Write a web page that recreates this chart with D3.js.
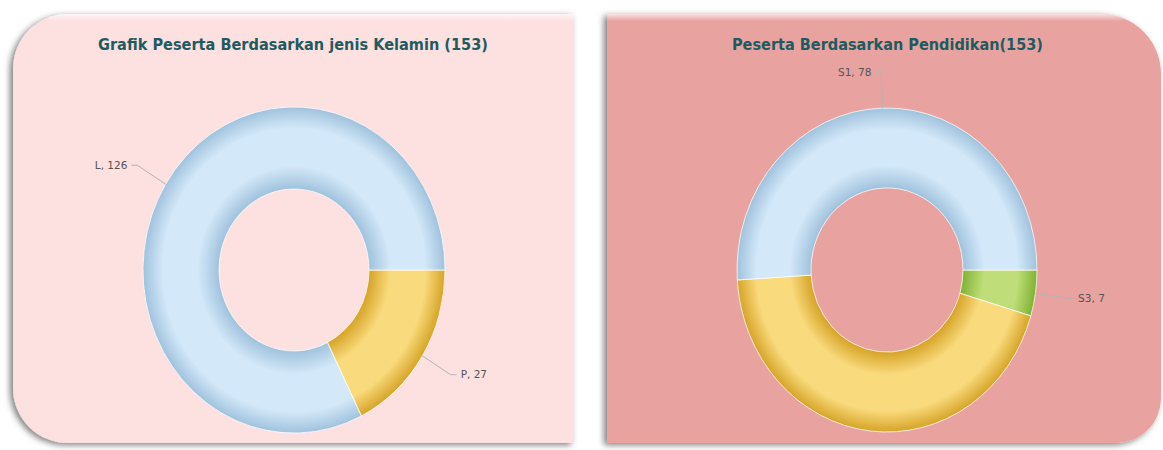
<!DOCTYPE html>
<html>
<head>
<meta charset="utf-8">
<script src="https://cdn.jsdelivr.net/npm/d3@7"></script>
<style>
body{margin:0;background:#fff;}
svg{display:block;}
</style>
</head>
<body>
<svg id="chart" width="1163" height="450"></svg>
<script>
//data
var genderTitle="Grafik Peserta Berdasarkan jenis Kelamin (153)";
var genderCats=["P","L"];
var genderVals=[27,126];
var genderColors=["yellow","blue"];
var genderShown=["P","L"];

var eduTitle="Peserta Berdasarkan Pendidikan(153)";
var eduCats=["S3","S2","S1"];
var eduVals=[7,68,78];
var eduColors=["green","yellow","blue"];
var eduShown=["S3","S1"]; //S2 label falls outside the picture

//palette: edge / light
var shades={
    blue:["#a0c2dd","#d3e8f8"],
    yellow:["#d6a428","#f9da7c"],
    green:["#80b234","#bfdd78"]
};

var svg=d3.select("#chart");
var defs=svg.append("defs");

var shadow=defs.append("filter").attr("id","shadow").attr("x","-10%").attr("y","-10%").attr("width","120%").attr("height","120%");
shadow.append("feDropShadow").attr("dx",-3).attr("dy",2).attr("stdDeviation",3)
    .attr("flood-color","#000").attr("flood-opacity",0.5);

var gloss=defs.append("linearGradient").attr("id","gloss").attr("x1",0).attr("y1",0).attr("x2",0).attr("y2",1);
gloss.append("stop").attr("offset",0).attr("stop-color","#fff").attr("stop-opacity",0.9);
gloss.append("stop").attr("offset",1).attr("stop-color","#fff").attr("stop-opacity",0);

//rounded panel path with separate corner radii
function panelPath(x0,y0,x1,y1,tl,tr,br,bl){
    var p=d3.path();
    p.moveTo(x0+tl,y0);
    p.lineTo(x1-tr,y0);
    if(tr){p.arcTo(x1,y0,x1,y0+tr,tr);}
    p.lineTo(x1,y1-br);
    if(br){p.arcTo(x1,y1,x1-br,y1,br);}
    p.lineTo(x0+bl,y1);
    if(bl){p.arcTo(x0,y1,x0,y1-bl,bl);}
    p.lineTo(x0,y0+tl);
    if(tl){p.arcTo(x0,y0,x0+tl,y0,tl);}
    p.closePath();
    return p.toString();
}

var panels=[
    {id:"pL",d:panelPath(13,14,574,443,55,0,0,55),fill:"#fde0e0"},
    {id:"pR",d:panelPath(607,14,1161,443,0,60,45,0),fill:"#e8a2a0"}
];
panels.forEach(function(p){
    defs.append("clipPath").attr("id",p.id+"clip").append("path").attr("d",p.d);
    svg.append("path").attr("d",p.d).attr("fill",p.fill).attr("filter","url(#shadow)");
    svg.append("rect").attr("x",0).attr("y",12).attr("width",1163).attr("height",9)
        .attr("fill","url(#gloss)").attr("clip-path","url(#"+p.id+"clip)");
});

function donut(opts){
    var outerR=opts.outerR, innerR=opts.innerR, sy=opts.sy;
    var root=svg.append("g").attr("clip-path","url(#"+opts.clip+"clip)");

    root.append("text")
        .attr("x",opts.titleX).attr("y",50)
        .attr("font-family","DejaVu Sans, Verdana, sans-serif")
        .attr("font-weight","bold").attr("font-size",15)
        .attr("fill","#1d5b60")
        .attr("textLength",opts.titleW).attr("lengthAdjust","spacingAndGlyphs")
        .text(opts.title);

    var g=root.append("g").attr("transform","translate("+opts.cx+","+opts.cy+") scale(1,"+sy+")");

    var f=innerR/outerR;
    opts.colors.forEach(function(c){
        var id=opts.clip+"-"+c;
        var gr=defs.append("radialGradient").attr("id",id)
            .attr("gradientUnits","userSpaceOnUse").attr("cx",0).attr("cy",0).attr("r",outerR);
        gr.append("stop").attr("offset",f).attr("stop-color",shades[c][0]);
        gr.append("stop").attr("offset",f+0.14).attr("stop-color",shades[c][1]);
        gr.append("stop").attr("offset",0.87).attr("stop-color",shades[c][1]);
        gr.append("stop").attr("offset",1).attr("stop-color",shades[c][0]);
    });

    var pie=d3.pie().sort(null).startAngle(Math.PI/2).endAngle(Math.PI/2+2*Math.PI);
    var arcs=pie(opts.values);
    var arc=d3.arc().innerRadius(innerR).outerRadius(outerR);

    g.selectAll("path.slice").data(arcs).enter().append("path")
        .attr("class","slice")
        .attr("d",arc)
        .attr("fill",function(d,i){return "url(#"+opts.clip+"-"+opts.colors[i]+")";})
        .attr("stroke","#fff").attr("stroke-opacity",0.75).attr("stroke-width",1)
        .attr("vector-effect","non-scaling-stroke");

    //labels with elbow leader lines
    var lab=root.append("g");
    arcs.forEach(function(d,i){
        if(opts.shown.indexOf(opts.cats[i])<0){return;}
        var a=(d.startAngle+d.endAngle)/2;
        var s=Math.sin(a), c=-Math.cos(a);
        var p0=[opts.cx+s*outerR, opts.cy+c*outerR*sy];
        var p1=[opts.cx+s*outerR*1.22, opts.cy+c*outerR*1.22*sy];
        var dir=s>=0?1:-1;
        var p2=[p1[0]+dir*6,p1[1]];
        lab.append("path").attr("d",d3.line()([p0,p1,p2]))
            .attr("fill","none").attr("stroke","#b5b5b5").attr("stroke-width",1);
        lab.append("text")
            .attr("x",p2[0]+dir*4).attr("y",p2[1]).attr("dy","0.35em")
            .attr("text-anchor",dir>0?"start":"end")
            .attr("font-family","DejaVu Sans, Verdana, sans-serif")
            .attr("font-size",10.5).attr("fill","#555")
            .text(opts.cats[i]+", "+opts.values[i]);
    });
}

donut({clip:"pL",title:genderTitle,titleX:98,titleW:390,cx:294,cy:270,outerR:151,innerR:75,sy:1.08,
    cats:genderCats,values:genderVals,colors:genderColors,shown:genderShown});
donut({clip:"pR",title:eduTitle,titleX:732,titleW:311,cx:887,cy:270,outerR:150,innerR:76,sy:1.08,
    cats:eduCats,values:eduVals,colors:eduColors,shown:eduShown});
</script>
</body>
</html>
